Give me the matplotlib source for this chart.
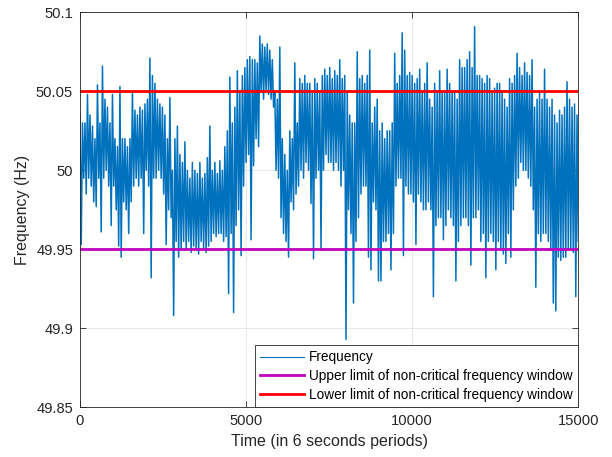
import numpy as np
import matplotlib.pyplot as plt

# grid frequency, 4 readings per 150-sample block (100 blocks)
freq = [
    50.035, 49.953, 50.030, 49.995,
    50.030, 49.985, 50.048, 49.995,
    50.035, 49.990, 50.028, 49.980,
    50.020, 49.977, 50.054, 49.995,
    50.030, 49.961, 50.066, 49.995,
    50.045, 50.000, 50.040, 49.990,
    50.030, 49.965, 50.048, 49.990,
    50.020, 49.975, 50.015, 49.952,
    50.053, 49.945, 50.020, 49.980,
    50.020, 49.975, 50.015, 49.960,
    50.020, 49.980, 50.050, 49.990,
    50.038, 49.995, 50.035, 49.990,
    50.040, 49.995, 50.038, 49.960,
    50.042, 50.000, 50.045, 49.990,
    50.071, 49.932, 50.060, 49.995,
    50.055, 49.995, 50.045, 50.000,
    50.042, 49.995, 50.040, 49.985,
    50.035, 49.953, 50.020, 49.975,
    50.046, 49.970, 50.000, 49.908,
    50.020, 49.955, 50.028, 49.945,
    50.010, 49.950, 50.005, 49.955,
    50.018, 49.950, 50.000, 49.955,
    49.995, 49.948, 50.005, 49.952,
    50.000, 49.950, 49.998, 49.947,
    50.005, 49.955, 49.995, 49.950,
    49.998, 49.948, 50.008, 49.952,
    50.028, 49.955, 50.000, 49.960,
    50.005, 49.958, 49.998, 49.960,
    50.006, 49.960, 50.000, 49.955,
    50.015, 49.958, 50.025, 49.922,
    50.059, 49.960, 50.030, 49.910,
    50.040, 49.965, 50.063, 49.975,
    50.050, 49.946, 50.060, 49.990,
    50.065, 50.005, 50.070, 50.010,
    50.072, 49.956, 50.070, 50.003,
    50.070, 50.020, 50.068, 50.015,
    50.085, 50.050, 50.080, 50.045,
    50.078, 50.050, 50.080, 50.048,
    50.076, 50.045, 50.070, 50.040,
    50.050, 50.000, 50.045, 49.995,
    50.078, 49.970, 50.020, 49.960,
    50.010, 49.955, 50.000, 49.945,
    50.025, 49.980, 50.020, 49.975,
    50.068, 49.985, 50.030, 49.990,
    50.058, 50.000, 50.055, 49.995,
    50.060, 50.005, 50.055, 50.000,
    50.055, 49.979, 50.050, 49.944,
    50.058, 49.995, 50.055, 50.000,
    50.050, 49.950, 50.060, 50.000,
    50.064, 50.010, 50.060, 50.005,
    50.065, 50.005, 50.058, 50.000,
    50.063, 50.005, 50.060, 50.000,
    50.070, 49.990, 50.058, 50.000,
    50.060, 49.893, 50.050, 49.975,
    50.035, 49.960, 50.030, 49.916,
    50.030, 49.955, 50.075, 49.970,
    50.058, 49.985, 50.060, 49.990,
    50.055, 49.990, 50.060, 49.945,
    50.076, 49.937, 50.030, 49.980,
    50.040, 49.975, 50.045, 49.930,
    50.025, 49.930, 50.030, 49.955,
    50.020, 49.955, 50.025, 49.960,
    50.025, 49.937, 50.030, 49.960,
    50.074, 49.990, 50.055, 49.995,
    50.060, 49.995, 50.087, 49.946,
    50.076, 49.990, 50.060, 49.985,
    50.062, 49.985, 50.060, 49.980,
    50.055, 49.953, 50.058, 49.985,
    50.064, 49.980, 50.050, 49.975,
    50.055, 49.975, 50.068, 49.980,
    50.045, 49.975, 50.040, 49.920,
    50.055, 49.965, 50.050, 49.970,
    50.063, 49.970, 50.050, 49.956,
    50.050, 49.965, 50.064, 49.975,
    50.055, 49.970, 50.050, 49.965,
    50.050, 49.930, 50.045, 49.955,
    50.070, 49.965, 50.065, 49.970,
    50.065, 49.970, 50.070, 49.965,
    50.075, 49.940, 50.065, 49.970,
    50.091, 49.970, 50.060, 49.975,
    50.060, 49.955, 50.058, 49.960,
    50.055, 49.932, 50.060, 49.955,
    50.058, 49.960, 50.050, 49.955,
    50.052, 49.937, 50.055, 49.955,
    50.055, 49.950, 50.050, 49.947,
    50.045, 49.941, 50.040, 49.960,
    50.058, 49.945, 50.055, 49.975,
    50.060, 49.990, 50.074, 49.995,
    50.065, 50.005, 50.060, 50.000,
    50.068, 50.000, 50.062, 49.995,
    50.060, 49.990, 50.070, 49.975,
    50.040, 49.926, 50.045, 49.960,
    50.050, 49.955, 50.045, 49.960,
    50.064, 49.960, 50.045, 49.955,
    50.040, 49.950, 50.045, 49.916,
    50.035, 49.911, 50.030, 49.945,
    50.038, 49.943, 50.035, 49.945,
    50.040, 49.945, 50.056, 49.950,
    50.045, 49.950, 50.040, 49.948,
    50.042, 49.920, 50.035, 49.955,
]
n_samples = 15000

upper_limit = 49.95   # drawn magenta
lower_limit = 50.05   # drawn red

yticks = [49.85, 49.9, 49.95, 50.0, 50.05, 50.1]
ytick_labels = ["49.85", "49.9", "49.95", "50", "50.05", "50.1"]
xticks = [0, 5000, 10000, 15000]

plt.rcParams['font.family'] = ['Liberation Sans', 'DejaVu Sans']

t = np.linspace(0, n_samples, len(freq))

fig = plt.figure(figsize=(6.12, 4.57), dpi=100)
ax = fig.add_axes([0.1307, 0.1088, 0.8142, 0.8643])

ax.plot(t, freq, color='#0072BD', lw=1.1, label='Frequency')
ax.axhline(upper_limit, color='#BF00BF', lw=2,
           label='Upper limit of non-critical frequency window')
ax.axhline(lower_limit, color='#FF0000', lw=2,
           label='Lower limit of non-critical frequency window')

ax.set_xlim(0, n_samples)
ax.set_ylim(49.85, 50.1)
ax.set_xticks(xticks)
ax.set_xticklabels([str(x) for x in xticks])
ax.set_yticks(yticks)
ax.set_yticklabels(ytick_labels)

ax.grid(True, color='#262626', alpha=0.12, lw=0.6)
ax.set_axisbelow(True)
for s in ax.spines.values():
    s.set_color('#262626')
    s.set_linewidth(0.6)
ax.tick_params(direction='in', length=4, width=0.6, colors='#262626',
               labelsize=10.6, top=True, right=True, pad=5)

ax.set_xlabel("Time (in 6 seconds periods)", fontsize=11.5, color='#262626')
ax.set_ylabel("Frequency (Hz)", fontsize=11.5, color='#262626')

leg = ax.legend(loc='lower right', fontsize=9.8, borderaxespad=0,
                fancybox=False, framealpha=1, edgecolor='#262626',
                handlelength=3.2, handletextpad=0.4, labelspacing=0.35,
                borderpad=0.4)
leg.get_frame().set_linewidth(0.6)
leg.get_lines()[0].set_linewidth(0.8)

fig.savefig("out.png", dpi=100)
